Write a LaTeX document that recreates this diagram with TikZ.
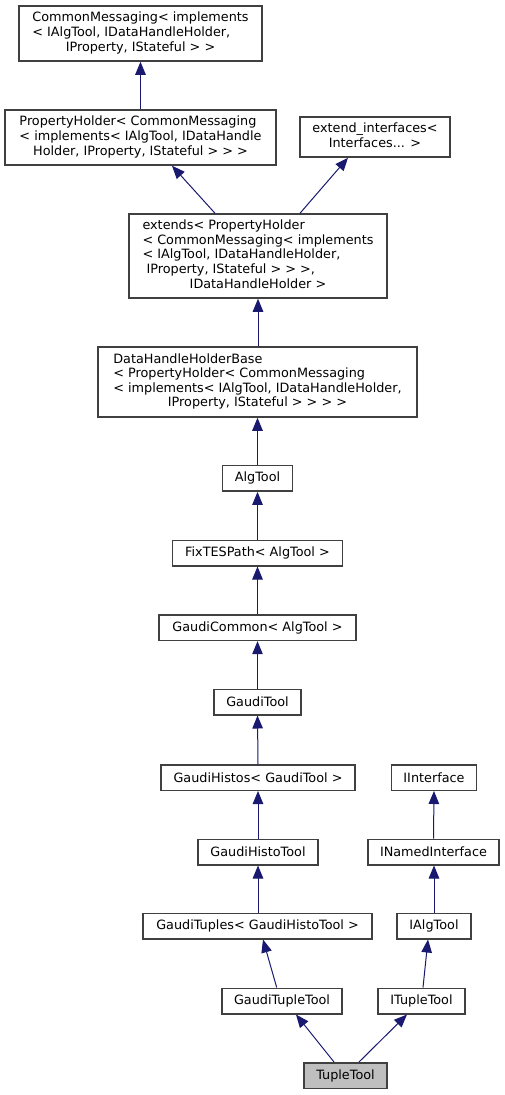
\documentclass[tikz,border=0pt]{standalone}
\usepackage{fontspec}
\setmainfont{DejaVu Sans}
\usetikzlibrary{arrows.meta}
\definecolor{navy}{RGB}{25,25,112}
\definecolor{boxgray}{RGB}{64,64,64}
\definecolor{fillgray}{RGB}{191,191,191}
\begin{document}
\begin{tikzpicture}[x=1pt,y=-1pt,
  box/.style={draw=boxgray, line width=1.5pt, fill=white, inner sep=0pt,
    minimum height=25.5pt, font=\fontsize{12.8}{14.6}\selectfont},
  edge/.style={draw=navy, line width=1pt, -{Triangle[length=13pt,width=10.5pt]}}]
\useasboundingbox (0,0) rectangle (505,1095);
\fill[white] (0,0) rectangle (505,1095);

\node[box, minimum width=243pt, minimum height=55pt] (cm) at (140.5,33.5)
  {\begin{tabular}{@{}l@{}}CommonMessaging< implements\\< IAlgTool, IDataHandleHolder,\\\multicolumn{1}{@{}c@{}}{IProperty, IStateful > >}\end{tabular}};
\node[box, minimum width=271pt, minimum height=55pt] (ph) at (140.5,137.5)
  {\begin{tabular}{@{}l@{}}PropertyHolder< CommonMessaging\\< implements< IAlgTool, IDataHandle\\\multicolumn{1}{@{}c@{}}{Holder, IProperty, IStateful > > >}\end{tabular}};
\node[box, minimum width=150pt, minimum height=40pt] (ei) at (375,137)
  {\begin{tabular}{@{}l@{}}extend\_interfaces<\\\multicolumn{1}{@{}c@{}}{Interfaces... >}\end{tabular}};
\node[box, minimum width=258pt, minimum height=84pt] (ex) at (258,256)
  {\begin{tabular}{@{}l@{}}extends< PropertyHolder\\< CommonMessaging< implements\\< IAlgTool, IDataHandleHolder,\\\ IProperty, IStateful > > >,\\\multicolumn{1}{@{}c@{}}{IDataHandleHolder >}\end{tabular}};
\node[box, minimum width=319pt, minimum height=70pt] (dh) at (257.5,382)
  {\begin{tabular}{@{}l@{}}DataHandleHolderBase\\< PropertyHolder< CommonMessaging\\< implements< IAlgTool, IDataHandleHolder,\\\multicolumn{1}{@{}c@{}}{IProperty, IStateful > > > >}\end{tabular}};
\node[box, minimum width=70pt] (at) at (257.5,478.4) {AlgTool};
\node[box, minimum width=170pt] (ft) at (257.5,553) {FixTESPath< AlgTool >};
\node[box, minimum width=197pt] (gc) at (257.5,627.7) {GaudiCommon< AlgTool >};
\node[box, minimum width=87pt] (gt) at (257.5,702) {GaudiTool};
\node[box, minimum width=194pt] (gh) at (258,777.5) {GaudiHistos< GaudiTool >};
\node[box, minimum width=85pt] (ii) at (434,777.5) {IInterface};
\node[box, minimum width=120pt] (ght) at (258,852) {GaudiHistoTool};
\node[box, minimum width=131pt] (ini) at (433.5,852) {INamedInterface};
\node[box, minimum width=229pt] (gts) at (257.5,926) {GaudiTuples< GaudiHistoTool >};
\node[box, minimum width=74pt] (iat) at (434,926) {IAlgTool};
\node[box, minimum width=120pt] (gtt) at (282,1001) {GaudiTupleTool};
\node[box, minimum width=87pt] (itt) at (421.5,1001) {ITupleTool};
\node[box, minimum width=83pt, fill=fillgray] (tt) at (345.5,1075.5) {TupleTool};

\draw[edge] (ph.north) -- (cm.south);
\draw[edge] ([xshift=-43pt]ex.north) -- ([xshift=31.5pt]ph.south);
\draw[edge] ([xshift=42pt]ex.north) -- ([xshift=-27pt]ei.south);
\draw[edge] (dh.north -| ex.south) -- (ex.south);
\draw[edge] (at.north) -- (dh.south);
\draw[edge] (ft.north) -- (at.south);
\draw[edge] (gc.north) -- (ft.south);
\draw[edge] (gt.north) -- (gc.south);
\draw[edge] (gh.north) -- (gt.south);
\draw[edge] (ght.north) -- (gh.south);
\draw[edge] (gts.north -| ght.south) -- (ght.south);
\draw[edge] (ini.north) -- (ii.south);
\draw[edge] (iat.north) -- (iat.north |- ini.south);
\draw[edge] ([xshift=-5.3pt]gtt.north) -- ([xshift=5.5pt]gts.south);
\draw[edge] ([xshift=1.5pt]itt.north) -- ([xshift=-6pt]iat.south);
\draw[edge] ([xshift=-11.5pt]tt.north) -- ([xshift=14pt]gtt.south);
\draw[edge] ([xshift=13.5pt]tt.north) -- ([xshift=-14.5pt]itt.south);
\end{tikzpicture}
\end{document}
